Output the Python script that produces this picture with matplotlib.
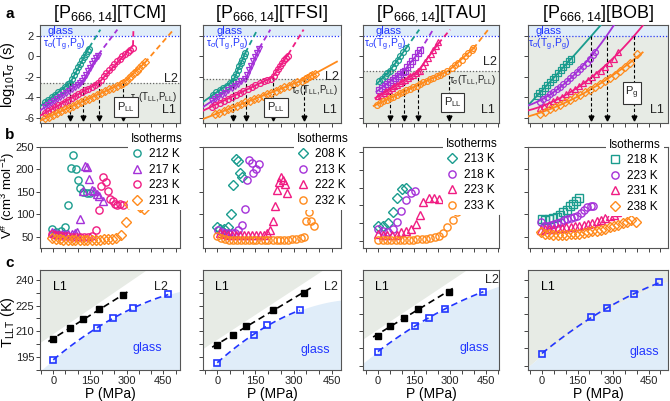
import numpy as np
import matplotlib
matplotlib.use('Agg')
import matplotlib.pyplot as plt
from matplotlib.ticker import MultipleLocator, NullFormatter

plt.rcParams['font.family'] = ['Liberation Sans', 'DejaVu Sans']
plt.rcParams['mathtext.default'] = 'regular'
plt.rcParams['axes.unicode_minus'] = False

# ====================== DATA ======================
titles = ['[P$_{666,14}$][TCM]', '[P$_{666,14}$][TFSI]', '[P$_{666,14}$][TAU]', '[P$_{666,14}$][BOB]']
iso_tcm = [212, 217, 223, 231]
iso_tfsi = [208, 213, 222, 232]
iso_tau = [213, 218, 223, 233]
iso_bob = [218, 223, 231, 238]

# ---- panel c : T_LL (filled) and T_g (open) vs P ----
tcm_P_LL = [0, 70, 120, 187, 286]
tcm_T_LL = [205.5, 212.0, 217.0, 223.0, 231.0]
tcm_P_g = [0, 177, 243, 327, 470]
tcm_T_g = [193.3, 212.0, 217.5, 223.5, 231.5]
tfsi_P_LL = [0, 63, 113, 217, 340]
tfsi_T_LL = [202.1, 208.0, 213.2, 222.2, 232.5]
tfsi_P_g = [0, 145, 194, 324]
tfsi_T_g = [191.7, 208.0, 213.4, 222.2]
tau_P_LL = [0, 50, 108, 165, 296]
tau_T_LL = [207.5, 213.0, 218.0, 223.2, 233.1]
tau_P_g = [0, 154, 214, 279, 439]
tau_T_g = [198.2, 213.0, 218.0, 223.2, 233.1]
bob_P_g = [0, 209, 273, 389, 496]
bob_T_g = [197.0, 218.3, 223.6, 231.5, 238.6]
bob_reaches_glass = [True, True, True, False]   # isotherms whose curve crosses the glass line in panel a

# ---- panel a : log10 tau vs P ----
tcm_a_P_212 = [-34, -20, -7, 7, 20, 34, 48, 61, 68, 76, 85, 93, 101, 109, 117, 125, 134, 142, 147]
tcm_a_L_212 = [-4.50, -4.25, -4.00, -3.74, -3.50, -3.24, -2.97, -2.72, -2.60, -2.21, -1.82, -1.43, -1.04, -0.72, -0.39, -0.07, 0.25, 0.54, 0.71]
tcm_a_P_217 = [-34, -22, -9.5, 2.7, 15, 27, 39.5, 52, 64, 76, 89, 101, 110, 119, 127, 135, 143, 151, 160, 168, 176, 184]
tcm_a_L_217 = [-4.97, -4.76, -4.56, -4.36, -4.16, -3.96, -3.76, -3.56, -3.36, -3.16, -2.96, -2.76, -2.60, -2.45, -2.15, -1.80, -1.45, -1.10, -0.75, -0.45, -0.20, 0.01]
tcm_a_P_223 = [-34, -20, -7, 7, 20, 34, 48, 61, 75, 89, 102, 116, 130, 143, 157, 170, 184, 195, 206, 217, 228, 239, 249, 260, 271, 282, 293, 304, 315, 326]
tcm_a_L_223 = [-5.52, -5.34, -5.16, -4.97, -4.79, -4.61, -4.42, -4.24, -4.06, -3.87, -3.69, -3.51, -3.33, -3.14, -2.96, -2.78, -2.60, -2.27, -1.95, -1.66, -1.37, -1.07, -0.78, -0.49, -0.23, -0.01, 0.19, 0.41, 0.61, 0.77]
tcm_a_P_231 = [-34, -18, -1.4, 15, 31, 48, 64, 80, 97, 113, 130, 146, 162, 179, 195, 211, 228, 244, 260, 277, 286, 297, 308, 319, 330, 341, 352, 363, 374]
tcm_a_L_231 = [-6.06, -5.89, -5.71, -5.53, -5.36, -5.18, -5.00, -4.83, -4.65, -4.47, -4.29, -4.12, -3.94, -3.76, -3.59, -3.41, -3.23, -3.06, -2.88, -2.70, -2.60, -2.37, -2.11, -1.88, -1.66, -1.40, -1.14, -0.88, -0.59]

tfsi_a_P_208 = [-16, -3, 10, 24, 37, 50, 60, 67, 73, 80, 86, 93, 99, 105, 110]
tfsi_a_L_208 = [-3.73, -3.50, -3.31, -3.08, -2.85, -2.60, -2.37, -2.01, -1.69, -1.37, -0.98, -0.65, -0.33, 0.0, 0.32]
tfsi_a_P_213 = [-22, -9, 4, 17, 30, 43, 56, 69, 82, 95, 108, 118, 125, 133, 141, 149, 157, 165]
tfsi_a_L_213 = [-4.38, -4.15, -3.95, -3.73, -3.53, -3.31, -3.08, -2.85, -2.66, -2.43, -2.21, -1.79, -1.37, -0.91, -0.49, -0.07, 0.32, 0.71]
tfsi_a_P_222 = [-22, -7, 9, 25, 41, 56, 72, 88, 103, 119, 135, 150, 166, 182, 197, 213, 222, 230, 238, 246, 254, 261, 269, 278]
tfsi_a_L_222 = [-4.93, -4.73, -4.54, -4.34, -4.15, -3.95, -3.76, -3.57, -3.37, -3.18, -2.98, -2.79, -2.60, -2.40, -2.30, -2.21, -1.88, -1.56, -1.24, -0.91, -0.65, -0.39, -0.17, 0.06]
tfsi_a_P_232 = [-9, 8, 25, 42, 59, 76, 93, 110, 127, 144, 161, 178, 195, 212, 229, 246, 263, 280, 297, 314, 331, 344, 353, 363, 374, 383]
tfsi_a_L_232 = [-5.67, -5.51, -5.31, -5.15, -4.99, -4.83, -4.67, -4.50, -4.34, -4.18, -4.02, -3.86, -3.70, -3.53, -3.34, -3.18, -3.02, -2.85, -2.69, -2.53, -2.37, -2.21, -2.10, -1.96, -1.82, -1.70]

tau_a_P_213 = [6, 17, 28, 39, 50, 61, 72, 83, 94, 106, 117]
tau_a_L_213 = [-2.43, -2.17, -1.92, -1.66, -1.40, -1.04, -0.69, -0.33, 0.06, 0.41, 0.77]
tau_a_P_218 = [6, 17, 28, 39, 50, 61, 72, 83, 94, 106, 112.5, 122, 133, 144, 156, 167, 175]
tau_a_L_218 = [-3.24, -3.05, -2.85, -2.66, -2.47, -2.27, -2.08, -1.88, -1.69, -1.50, -1.40, -1.07, -0.75, -0.43, -0.07, 0.28, 0.58]
tau_a_P_223 = [1.4, 12.5, 23.6, 34.7, 45.8, 57, 68, 79, 90, 101, 112.5, 124, 135, 146, 157, 168, 175, 186, 197, 208, 219, 231, 242, 251]
tau_a_L_223 = [-3.89, -3.73, -3.57, -3.40, -3.24, -3.08, -2.92, -2.76, -2.60, -2.43, -2.27, -2.11, -1.95, -1.79, -1.62, -1.46, -1.40, -0.98, -0.59, -0.20, 0.19, 0.58, 0.96, 1.35]
tau_a_P_233 = [-5.6, 8.3, 22, 36, 50, 64, 78, 92, 106, 119, 133, 147, 161, 175, 189, 203, 217, 231, 244, 258, 272, 286, 307, 321, 335, 349, 362, 376, 390, 397]
tau_a_L_233 = [-4.70, -4.55, -4.39, -4.24, -4.08, -3.93, -3.78, -3.62, -3.47, -3.32, -3.17, -3.01, -2.86, -2.71, -2.55, -2.40, -2.25, -2.09, -1.94, -1.79, -1.63, -1.48, -1.14, -0.88, -0.65, -0.33, 0.0, 0.32, 0.64, 0.80]

bob_a_P_218 = [-22.5, -11, 0, 11, 22.5, 34, 45, 56, 68, 79, 90, 101, 113, 121]
bob_a_L_218 = [-3.86, -3.60, -3.34, -3.07, -2.80, -2.53, -2.25, -1.97, -1.67, -1.38, -1.08, -0.78, -0.45, -0.22]
bob_a_P_223 = [-8.5, 5.6, 20, 34, 48, 62, 76, 90, 104, 118, 132, 146, 161, 175, 189, 203, 217, 224]
bob_a_L_223 = [-4.41, -4.18, -3.95, -3.70, -3.47, -3.21, -2.95, -2.69, -2.43, -2.14, -1.85, -1.56, -1.27, -0.94, -0.62, -0.27, 0.16, 0.45]
bob_a_P_231 = [-8.5, 10, 28, 46.5, 65, 83, 101, 120, 138, 156, 175, 193, 211, 230, 248, 266, 285, 303, 323]
bob_a_L_231 = [-5.06, -4.83, -4.60, -4.38, -4.15, -3.92, -3.66, -3.40, -3.15, -2.89, -2.63, -2.34, -2.05, -1.72, -1.40, -1.04, -0.65, -0.23, 0.45]
bob_a_P_238 = [-8.5, 12.7, 34, 55, 76, 97, 118, 139, 161, 182, 203, 224, 245, 266, 287, 308, 330, 351, 372, 400]
bob_a_L_238 = [-5.61, -5.38, -5.15, -4.93, -4.70, -4.47, -4.25, -3.99, -3.73, -3.50, -3.24, -2.98, -2.69, -2.40, -2.11, -1.79, -1.43, -1.07, -0.69, 0.19]

# ---- panel b : activation volume V# vs P ----
tcm_b_P_212 = [-7, 11, 30, 49, 61, 71, 82, 93, 101, 109, 120, 136, 150]
tcm_b_V_212 = [66.3, 61.1, 63.3, 70.7, 120.5, 203.7, 232.0, 200.7, 176.2, 159.1, 148.7, 146.5, 148.0]
tcm_b_P_217 = [-7, 7, 20, 34, 48, 61, 75, 89, 98, 109, 120, 130, 140, 147, 157, 168, 177, 187, 204]
tcm_b_V_217 = [59.6, 57.4, 55.9, 55.1, 55.1, 55.9, 56.6, 57.4, 61.1, 88.5, 152.6, 207.4, 204.5, 177.7, 153.9, 151.0, 144.3, 140.6, 129.4]
tcm_b_P_223 = [-7, 7, 25, 41, 57, 75, 93, 109, 125, 142, 158, 175, 186, 196, 205, 215, 224, 232, 243, 252, 262, 273, 284]
tcm_b_V_223 = [56.0, 53.6, 52.9, 51.4, 51.4, 50.0, 50.0, 50.0, 50.0, 50.0, 50.7, 64.8, 109.0, 164.0, 184.0, 172.5, 152.0, 135.0, 130.0, 123.0, 120.5, 122.0, 120.0]
tcm_b_P_231 = [-7, 9.5, 26, 42, 59, 75, 91, 108, 124, 140, 157, 173, 190, 206, 222, 239, 255, 275, 297, 308, 331, 344, 354, 371]
tcm_b_V_231 = [46.2, 44.7, 44.0, 43.2, 43.2, 43.2, 43.2, 43.2, 43.2, 43.2, 43.2, 43.2, 43.2, 44.0, 44.0, 44.7, 46.2, 52.9, 81.9, 122.7, 131.6, 125.0, 115.3, 111.6]

tfsi_b_P_208 = [-2.6, 10.5, 26, 43, 54, 63, 72, 82, 89, 99]
tfsi_b_V_208 = [71.0, 67.3, 66.5, 72.5, 100.3, 166.3, 224.0, 218.8, 192.5, 183.5]
tfsi_b_P_213 = [3.9, 17, 30, 43, 56, 69, 82, 99, 108.5, 117.6, 125.5, 134.6, 141, 151.6, 162]
tfsi_b_V_213 = [65.0, 61.3, 59.0, 57.5, 57.5, 59.0, 65.0, 76.3, 112.3, 177.5, 220.3, 215.0, 192.5, 200.0, 211.3]
tfsi_b_P_222 = [10.5, 26, 42, 57.5, 73, 89, 104.6, 120, 136, 151.6, 167, 183, 196, 206.5, 217, 227.5, 235, 243, 252, 259, 265, 274.5]
tfsi_b_V_222 = [59.0, 56.0, 54.5, 53.8, 53.0, 53.0, 53.0, 53.0, 53.0, 53.0, 53.0, 54.5, 59.0, 65.0, 85.3, 119.0, 155.0, 172.3, 183.5, 177.5, 168.5, 147.5]
tfsi_b_P_232 = [-2.6, 13, 28.8, 44.4, 60, 75.8, 91.5, 107, 123, 138.6, 154, 170, 185.6, 201, 217, 232.7, 248, 264, 279.7, 295, 311, 327, 341, 350, 361, 370, 379]
tfsi_b_V_232 = [51.5, 46.3, 44.0, 43.3, 42.5, 41.8, 41.8, 41.8, 41.8, 41.8, 41.8, 41.8, 41.8, 41.8, 41.8, 41.8, 42.5, 42.5, 43.3, 44.0, 44.8, 46.3, 50.0, 86.0, 106.3, 86.0, 74.0]

tau_b_P_213 = [1.4, 19.4, 40, 61, 80.6, 98.6, 116.7]
tau_b_V_213 = [71.0, 71.4, 75.6, 90.5, 110.6, 123.2, 124.6]
tau_b_P_218 = [1.4, 22, 43, 61, 78, 96, 117, 136, 154]
tau_b_V_218 = [66.3, 64.0, 63.0, 66.3, 77.0, 92.0, 107.3, 117.6, 120.4]
tau_b_P_223 = [1.4, 19.4, 39, 57, 78, 96, 117, 137.5, 158, 175, 189, 212.5, 233, 255.6]
tau_b_V_223 = [59.8, 58.4, 57.9, 57.9, 58.4, 63.0, 64.0, 67.2, 73.3, 86.3, 105.0, 111.0, 109.6, 108.7]
tau_b_P_233 = [1.4, 19.4, 37.5, 55.6, 73.6, 91.7, 109.7, 127.8, 145.8, 164, 182, 200, 218, 236, 254, 272, 289, 311, 331, 351, 372, 393]
tau_b_V_233 = [50.9, 50.9, 50.9, 50.9, 50.9, 50.9, 51.4, 51.4, 51.9, 52.3, 52.8, 53.3, 53.7, 55.1, 57.0, 60.7, 69.1, 79.4, 91.0, 96.6, 98.0, 100.3]

bob_b_P_218 = [-1.4, 12.7, 31, 48, 62, 76, 90, 104, 118, 132, 144, 158]
bob_b_V_218 = [89.6, 88.1, 89.6, 91.8, 94.1, 99.3, 104.5, 110.5, 117.9, 123.9, 130.6, 136.6]
bob_b_P_223 = [-5.6, 8.5, 22.5, 36.6, 50.7, 64.8, 78.9, 93, 107, 121, 135, 149, 163, 177.5, 191.5, 205.6, 217]
bob_b_V_223 = [82.1, 74.7, 74.7, 75.4, 78.4, 80.8, 82.9, 86.6, 89.6, 91.8, 94.1, 97.0, 103.0, 110.5, 116.4, 119.4, 117.9]
bob_b_P_231 = [-5.6, 12.7, 31, 48, 66, 84.5, 103, 121, 139, 158, 176, 194, 213, 231, 249, 268, 286, 304, 318]
bob_b_V_231 = [65.7, 68.0, 68.0, 68.0, 68.7, 69.5, 71.0, 71.7, 73.2, 74.7, 76.2, 78.4, 80.8, 84.4, 88.1, 91.8, 95.6, 99.3, 104.5]
bob_b_P_238 = [-5.6, 12.7, 31, 48, 66, 84.5, 103, 121, 139, 158, 176, 194, 213, 231, 249, 268, 286, 304, 322.5, 341, 359, 377.5, 396]
bob_b_V_238 = [59.8, 56.8, 55.3, 54.5, 54.5, 54.5, 54.5, 55.3, 56.0, 56.8, 58.3, 59.8, 62.0, 63.5, 65.7, 68.0, 71.0, 73.2, 76.9, 80.6, 82.9, 86.6, 82.9]

tau_LL_level = [-2.6, -2.2, -1.4, None]   # log10 tau at (T_LL, P_LL)

# ====================== STYLE ======================
TEAL, PURP, PINK, ORNG = '#1a9c8e', '#a431d8', '#f01c82', '#ff8a1c'
BLUE = '#2236ff'
GREY_BG, BLUE_BG = '#e7ebe5', '#e0edf9'
SPINE = '#555555'
colors = [TEAL, PURP, PINK, ORNG]

W, H = 670, 401
fig = plt.figure(figsize=(6.7, 4.01), dpi=100)

def add_ax(l, t, r, b):
    return fig.add_axes([l / W, 1 - b / H, (r - l) / W, (b - t) / H])

cols_px = [(40, 180), (203, 341), (363, 499), (528, 668)]
rows_px = {'a': (25, 123), 'b': (147, 248), 'c': (270, 370)}
xlims = [(-54, 518), (-56, 486), (-62, 504), (-59, 532)]

def style(ax):
    for s in ax.spines.values():
        s.set_color(SPINE); s.set_linewidth(0.8)
    ax.tick_params(direction='out', length=3, width=0.7, colors='#444444',
                   labelsize=8, labelcolor='#222222', pad=1.2)
    ax.tick_params(which='minor', direction='out', length=3, width=0.7, colors='#444444')

# ---------------- panel a ----------------
a_series = [
    [(tcm_a_P_212, tcm_a_L_212, 'o'), (tcm_a_P_217, tcm_a_L_217, 'v'), (tcm_a_P_223, tcm_a_L_223, 'o'), (tcm_a_P_231, tcm_a_L_231, 'D')],
    [(tfsi_a_P_208, tfsi_a_L_208, 'o'), (tfsi_a_P_213, tfsi_a_L_213, 'v'), (tfsi_a_P_222, tfsi_a_L_222, 'o'), (tfsi_a_P_232, tfsi_a_L_232, 'D')],
    [(tau_a_P_213, tau_a_L_213, 'o'), (tau_a_P_218, tau_a_L_218, 's'), (tau_a_P_223, tau_a_L_223, '^'), (tau_a_P_233, tau_a_L_233, 'o')],
    [(bob_a_P_218, bob_a_L_218, 's'), (bob_a_P_223, bob_a_L_223, 'o'), (bob_a_P_231, bob_a_L_231, '^'), (bob_a_P_238, bob_a_L_238, 'D')],
]
PLL_all = [tcm_P_LL, tfsi_P_LL, tau_P_LL, None]
Pg_all = [tcm_P_g, tfsi_P_g, tau_P_g, bob_P_g]

YTOP, YBOT = 3.05, -6.5
for ci in range(4):
    l, r = cols_px[ci]
    ax = add_ax(l, rows_px['a'][0], r, rows_px['a'][1])
    style(ax)
    ax.set_xlim(xlims[ci]); ax.set_ylim(YBOT, YTOP)
    lev = tau_LL_level[ci]
    ax.axhspan(2, YTOP, color=BLUE_BG, lw=0, zorder=0)
    ax.axhspan(YBOT, 2 if lev is None else lev, color=GREY_BG, lw=0, zorder=0)
    ax.axhline(2, color=BLUE, ls=(0, (1, 1.5)), lw=0.9, zorder=1)
    if lev is not None:
        ax.axhline(lev, color='#666666', ls=(0, (1, 1.5)), lw=0.9, zorder=1)
    pgs = Pg_all[ci][1:]
    for k, (P, L, mk) in enumerate(a_series[ci]):
        P = np.array(P, float); L = np.array(L, float); c = colors[k]
        pg = pgs[k] if k < len(pgs) else None
        if lev is None:
            use_pg = bob_reaches_glass[k]
            Pf = np.append(P, pg) if use_pg else P
            Lf = np.append(L, 2.0) if use_pg else L
            wts = np.ones(len(Pf))
            if use_pg:
                wts[-1] = 6.0
            cf = np.polyfit(Pf, Lf, 2, w=wts)
            xend = xlims[ci][1] if use_pg else P.max() + 25
            xs = np.linspace(xlims[ci][0], xend, 300)
            ys = np.polyval(cf, xs)
            m = ys <= YTOP
            ax.plot(xs[m], ys[m], '-', color=c, lw=1.3, zorder=3)
            if use_pg:
                ax.plot([pg, pg], [2, -5.9], color='k', ls=(0, (3, 2)), lw=0.8, zorder=4)
                ax.plot(pg, -6.05, marker='v', color='k', ms=3.5, zorder=4)
        else:
            pll = PLL_all[ci][k + 1]
            lo = P <= pll
            hi = P > pll
            clo = np.polyfit(P[lo], L[lo], 1)
            yk = np.polyval(clo, pll)
            x0 = xlims[ci][0] if ci < 2 else P.min() - 12
            ax.plot([x0, pll], np.polyval(clo, [x0, pll]), '-', color=c, lw=1.3, zorder=3)
            dP = P[hi] - pll
            s = np.sum(dP * (L[hi] - yk)) / np.sum(dP * dP)
            pmax = P.max()
            if pg is not None:
                ax.plot([pll, pmax], [yk, yk + s * (pmax - pll)], '-', color=c, lw=1.3, zorder=3)
                y0 = yk + s * (pmax - pll)
                sl = (2 - y0) / (pg - pmax)
                yend = 2.6
                ax.plot([pmax, pmax + (yend - y0) / sl], [y0, yend], color=c, ls=(0, (3, 2)), lw=1.3, zorder=3)
            else:
                xend = 470
                ax.plot([pll, xend], [yk, yk + s * (xend - pll)], '-', color=c, lw=1.3, zorder=3)
            ax.plot([pll, pll], [yk, -5.9], color='k', ls=(0, (3, 2)), lw=0.8, zorder=4)
            ax.plot(pll, -6.05, marker='v', color='k', ms=3.5, zorder=4)
        ax.plot(P, L, ls='none', marker=mk, mfc='none', mec=c, ms=4.2, mew=0.9, zorder=5)
    ax.xaxis.set_major_locator(MultipleLocator(50))
    ax.xaxis.set_major_formatter(NullFormatter())
    ax.yaxis.set_major_locator(MultipleLocator(2))
    if ci > 0:
        ax.yaxis.set_major_formatter(NullFormatter())
    fig.text((l + r) / 2 / W, 1 - 14 / H, titles[ci], ha='center', va='center', fontsize=13)

# panel a annotations
def atext(ci, x, y, s, **kw):
    l, r = cols_px[ci]
    t, b = rows_px['a']
    fig.text((l + x * (r - l)) / W, 1 - (b - y * (b - t)) / H, s, **kw)

for ci, gx in enumerate([0.05, 0.10, 0.09, 0.05]):
    atext(ci, gx, 0.935, 'glass', color=BLUE, fontsize=8, va='center', ha='left')
for ci, tx in enumerate([0.02, 0.02, 0.01, 0.0]):
    atext(ci, tx, 0.80, 'τ$_σ$(T$_g$,P$_g$)', color=BLUE, fontsize=7.5, va='center', ha='left')
L2y = [0.45, 0.47, 0.62]
TLy = [0.265, 0.34, 0.44]
for ci in range(3):
    atext(ci, 0.985, L2y[ci], 'L2', fontsize=9, va='center', ha='right', color='#222222')
    atext(ci, 0.985, TLy[ci], 'τ$_σ$(T$_{LL}$,P$_{LL}$)', fontsize=7, va='center', ha='right', color='#222222')
for ci in range(4):
    atext(ci, 0.97, 0.13, 'L1', fontsize=9, va='center', ha='right', color='#222222')
boxes = [(0, 0.614, 0.163, 'P$_{LL}$'), (1, 0.53, 0.158, 'P$_{LL}$'), (2, 0.658, 0.21, 'P$_{LL}$'), (3, 0.743, 0.31, 'P$_g$')]
for ci, x, y, s in boxes:
    atext(ci, x, y, s, fontsize=8, va='center', ha='center', color='#222222',
          bbox=dict(boxstyle='square,pad=0.25', fc='white', ec='#333333', lw=0.8))

# ---------------- panel b ----------------
b_series = [
    [(tcm_b_P_212, tcm_b_V_212, 'o'), (tcm_b_P_217, tcm_b_V_217, '^'), (tcm_b_P_223, tcm_b_V_223, 'o'), (tcm_b_P_231, tcm_b_V_231, 'D')],
    [(tfsi_b_P_208, tfsi_b_V_208, 'D'), (tfsi_b_P_213, tfsi_b_V_213, 'o'), (tfsi_b_P_222, tfsi_b_V_222, '^'), (tfsi_b_P_232, tfsi_b_V_232, 'o')],
    [(tau_b_P_213, tau_b_V_213, 'D'), (tau_b_P_218, tau_b_V_218, 'o'), (tau_b_P_223, tau_b_V_223, '^'), (tau_b_P_233, tau_b_V_233, 'o')],
    [(bob_b_P_218, bob_b_V_218, 's'), (bob_b_P_223, bob_b_V_223, 'o'), (bob_b_P_231, bob_b_V_231, '^'), (bob_b_P_238, bob_b_V_238, 'D')],
]
isos = [iso_tcm, iso_tfsi, iso_tau, iso_bob]
b_ylims = [(25, 250), (25, 250), (40, 182), (25, 250)]
b_ystep = [50, 50, 25, 50]
leg_anchor = [(0.63, 1.17), (0.66, 1.17), (0.59, 1.12), (0.56, 1.11)]
for ci in range(4):
    l, r = cols_px[ci]
    ax = add_ax(l, rows_px['b'][0], r, rows_px['b'][1])
    style(ax)
    ax.set_xlim(xlims[ci]); ax.set_ylim(b_ylims[ci])
    hs = []
    for k, (P, V, mk) in enumerate(b_series[ci]):
        h, = ax.plot(P, V, ls='none', marker=mk, mfc='none', mec=colors[k], ms=5.2, mew=1.0,
                     label=f'{isos[ci][k]} K', zorder=3)
        hs.append(h)
    ax.xaxis.set_major_locator(MultipleLocator(50))
    ax.xaxis.set_major_formatter(NullFormatter())
    ax.yaxis.set_major_locator(MultipleLocator(b_ystep[ci]))
    if ci > 0:
        ax.yaxis.set_major_formatter(NullFormatter())
    lg = ax.legend(handles=hs, title='Isotherms', loc='upper left', bbox_to_anchor=leg_anchor[ci],
                   frameon=True, facecolor='white', edgecolor='none', framealpha=1,
                   fontsize=8.5, title_fontsize=8.5, handletextpad=0.5, borderpad=0.25,
                   labelspacing=0.3, handlelength=1.0, borderaxespad=0)
    lg.set_zorder(10)
    lg._legend_box.align = 'left'

# ---------------- panel c ----------------
c_LL = [(tcm_P_LL, tcm_T_LL), (tfsi_P_LL, tfsi_T_LL), (tau_P_LL, tau_T_LL), None]
c_g = [(tcm_P_g, tcm_T_g), (tfsi_P_g, tfsi_T_g), (tau_P_g, tau_T_g), (bob_P_g, bob_T_g)]
CY = (187.4, 245.8)
for ci in range(4):
    l, r = cols_px[ci]
    ax = add_ax(l, rows_px['c'][0], r, rows_px['c'][1])
    style(ax)
    ax.set_xlim(xlims[ci]); ax.set_ylim(CY)
    xx = np.linspace(xlims[ci][0], xlims[ci][1], 200)
    Pg, Tg = np.array(c_g[ci][0], float), np.array(c_g[ci][1], float)
    cg = np.polyfit(Pg, Tg, 2)
    if c_LL[ci] is not None:
        PL, TL = np.array(c_LL[ci][0], float), np.array(c_LL[ci][1], float)
        cl = np.polyfit(PL, TL, 1)
        ax.fill_between(xx, np.polyval(cl, xx) + 2.5 + 0.008 * (xx - xx[0]), CY[1], color=GREY_BG, lw=0, zorder=0)
        ax.fill_between(xx, CY[0], np.polyval(cg, xx), color=BLUE_BG, lw=0, zorder=0)
        xs = np.linspace(PL.min() - 20, PL.max() + 30, 50)
        ax.plot(xs, np.polyval(cl, xs), color='k', ls=(0, (4, 2.5)), lw=1.2, zorder=3)
        ax.plot(PL, TL, 's', color='k', ms=4.8, zorder=4)
    else:
        ax.fill_between(xx, np.polyval(cg, xx) - 1.0, CY[1], color=GREY_BG, lw=0, zorder=0)
        ax.fill_between(xx, CY[0], np.polyval(cg, xx) - 1.0, color=BLUE_BG, lw=0, zorder=0)
    xs = np.linspace(Pg.min(), Pg.max(), 60)
    ax.plot(xs, np.polyval(cg, xs), color=BLUE, ls=(0, (4, 2.5)), lw=1.2, zorder=3)
    ax.plot(Pg, Tg, 's', mfc='none', mec=BLUE, ms=4.8, mew=1.2, zorder=4)
    ax.xaxis.set_major_locator(MultipleLocator(150))
    ax.xaxis.set_minor_locator(MultipleLocator(50))
    if ci < 2:
        ax.yaxis.set_major_locator(MultipleLocator(15))
        ax.yaxis.set_minor_locator(MultipleLocator(7.5))
    else:
        ax.yaxis.set_major_locator(MultipleLocator(10))
    if ci > 0:
        ax.yaxis.set_major_formatter(NullFormatter())
    ax.set_xlabel('P (MPa)', fontsize=10, labelpad=1)
    ax.text(0.09, 0.83, 'L1', transform=ax.transAxes, fontsize=9, va='center', ha='left')
    if ci < 3:
        ax.text([0.91, 0.98, 1.0][ci], [0.83, 0.83, 0.90][ci], 'L2', transform=ax.transAxes,
                fontsize=9, va='center', ha='right', color='#222222')
    ax.text([0.87, 0.92, 0.93, 0.94][ci], [0.22, 0.20, 0.22, 0.18][ci], 'glass', transform=ax.transAxes,
            fontsize=9, va='center', ha='right', color=BLUE)

# axis labels and panel letters
fig.text(8 / W, 1 - 75 / H, 'log$_{10}$τ$_σ$ (s)', rotation=90, ha='center', va='center', fontsize=10.5)
fig.text(8 / W, 1 - 195 / H, 'V$^{\\#}$ (cm$^3$ mol$^{-1}$)', rotation=90, ha='center', va='center', fontsize=9.5)
fig.text(8 / W, 1 - 322 / H, 'T$_{LLT}$ (K)', rotation=90, ha='center', va='center', fontsize=10.5)
for s, y in [('a', 14), ('b', 135), ('c', 263)]:
    fig.text(5 / W, 1 - y / H, s, fontsize=11, fontweight='bold', ha='left', va='center')

fig.savefig('out.png', dpi=100)
